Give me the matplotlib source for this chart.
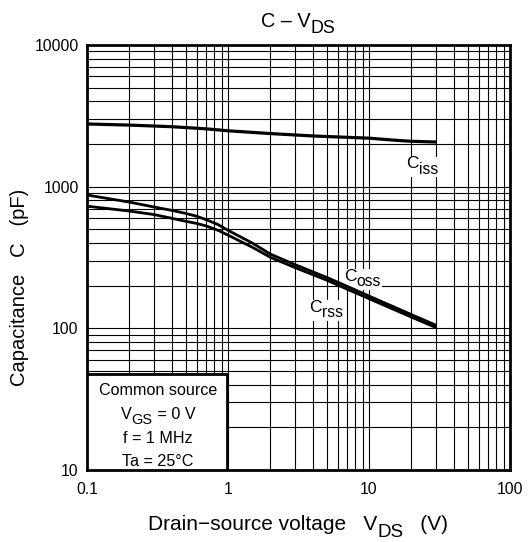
import matplotlib
matplotlib.use("Agg")
import matplotlib.pyplot as plt
from matplotlib.patches import Rectangle
from matplotlib.transforms import IdentityTransform

plt.rcParams['font.family'] = ['Liberation Sans', 'DejaVu Sans']

# Data
v_ciss = [0.1, 0.2, 0.4, 0.7, 1, 2, 4, 7, 10, 15, 20, 30]
c_ciss = [2770, 2720, 2650, 2560, 2480, 2370, 2280, 2230, 2200, 2130, 2090, 2066]

v_coss = [0.1, 0.2, 0.3, 0.4, 0.5, 0.6, 0.7, 0.85, 1, 1.5, 2, 3, 5, 7, 10, 20, 30]
c_coss = [873, 778, 718, 680, 648, 618, 585, 540, 492, 398, 334, 281, 229, 198, 169, 125, 105]

v_crss = [0.1, 0.2, 0.3, 0.4, 0.5, 0.6, 0.7, 0.85, 1, 1.5, 2, 3, 5, 7, 10, 20, 30]
c_crss = [728, 673, 635, 598, 570, 550, 528, 492, 455, 372, 317, 268, 219, 189, 162, 120, 101]

x_ticks = [0.1, 1, 10, 100]
x_ticklabels = ["0.1", "1", "10", "100"]
y_ticks = [10, 100, 1000, 10000]
y_ticklabels = ["10", "100", "1000", "10000"]

conditions = [[("Common source", 0)],
              [("V", 0), ("GS", 1), (" = 0 V", 0)],
              [("f = 1 MHz", 0)],
              [("Ta = 25°C", 0)]]

DPI = 100
fig = plt.figure(figsize=(5.30, 5.42), dpi=DPI)
ax = fig.add_axes([87/530, 1 - 470/542, (510-87)/530, (470-45)/542])
renderer = fig.canvas.get_renderer()


def text_width(s, fs):
    t1 = fig.text(0, 0, "x" + s + "x", fontsize=fs)
    t2 = fig.text(0, 0, "xx", fontsize=fs)
    w = t1.get_window_extent(renderer).width - t2.get_window_extent(renderer).width
    t1.remove(); t2.remove()
    return w


def rich_text(x, y, parts, fontsize, transform, ha='center', sub_scale=0.9,
              sub_drop=0.30, zorder=6, bg=False, target=None):
    xd, yd = transform.transform((x, y))
    px = fontsize * DPI / 72.0
    sizes = [fontsize * (sub_scale if sub else 1.0) for _, sub in parts]
    widths = [text_width(s, f) for (s, _), f in zip(parts, sizes)]
    total = sum(widths)
    if ha == 'center':
        x0 = xd - total / 2
    elif ha == 'right':
        x0 = xd - total
    else:
        x0 = xd
    base = yd - 0.716 * px / 2
    if bg and target is not None:
        r = Rectangle((x0 - 1, base - 0.30 * px - 0.22 * px), total + 2, 1.2 * px,
                      transform=IdentityTransform(), facecolor='white',
                      edgecolor='none', zorder=2.5, clip_on=False)
        target.add_artist(r)
    cx = x0
    for (s, sub), f, w in zip(parts, sizes, widths):
        yy = base - (sub_drop * px if sub else 0)
        if target is not None:
            target.text(cx, yy, s, fontsize=f, ha='left', va='baseline',
                        transform=IdentityTransform(), zorder=zorder, clip_on=False)
        else:
            fig.text(cx, yy, s, fontsize=f, ha='left', va='baseline',
                     transform=IdentityTransform(), zorder=zorder)
        cx += w


ax.set_xscale('log')
ax.set_yscale('log')
ax.set_xlim(0.1, 100)
ax.set_ylim(10, 10000)

ax.grid(True, which='both', color='black', linewidth=0.8)
ax.set_axisbelow(True)

ax.plot(v_ciss, c_ciss, color='black', linewidth=2.3, solid_capstyle='butt', zorder=3)
ax.plot(v_coss, c_coss, color='black', linewidth=2.0, solid_capstyle='butt', zorder=3)
ax.plot(v_crss, c_crss, color='black', linewidth=2.0, solid_capstyle='butt', zorder=3)

ax.set_xticks(x_ticks)
ax.set_xticklabels(x_ticklabels, fontsize=11.3)
ax.set_yticks(y_ticks)
ax.set_yticklabels(y_ticklabels, fontsize=11.3)
ax.tick_params(which='both', length=0, pad=6)
ax.tick_params(axis='x', pad=9)

for s in ax.spines.values():
    s.set_linewidth(2)

# condition box
rect = Rectangle((0.0, 0.0), (227-87)/423, (470-374)/425, transform=ax.transAxes,
                 facecolor='white', edgecolor='black', linewidth=2, zorder=5)
ax.add_patch(rect)

fig.canvas.draw()

# curve labels
rich_text(23.8, 1490, [("C", 0), ("iss", 1)], 12.5, ax.transData, bg=True, target=ax)
rich_text(9.0, 240, [("C", 0), ("oss", 1)], 12.5, ax.transData, bg=True, target=ax)
rich_text(4.95, 145, [("C", 0), ("rss", 1)], 12.5, ax.transData, bg=True, target=ax)

ys = [0.191, 0.134, 0.078, 0.024]
for parts, y in zip(conditions, ys):
    rich_text((158-87)/423, y, parts, 11.6, ax.transAxes, zorder=7, target=ax)

rich_text(298/530, 1 - 20/542, [("C – V", 0), ("DS", 1)], 14.3, fig.transFigure)
rich_text(298/530, 1 - 523/542, [("Drain−source voltage   V", 0), ("DS", 1), ("   (V)", 0)],
          15, fig.transFigure)
fig.text(20/530, 1 - 287/542, "Capacitance   C   (pF)", fontsize=14.5, rotation=90,
         ha='center', va='center')

fig.savefig("out.png", dpi=DPI)
